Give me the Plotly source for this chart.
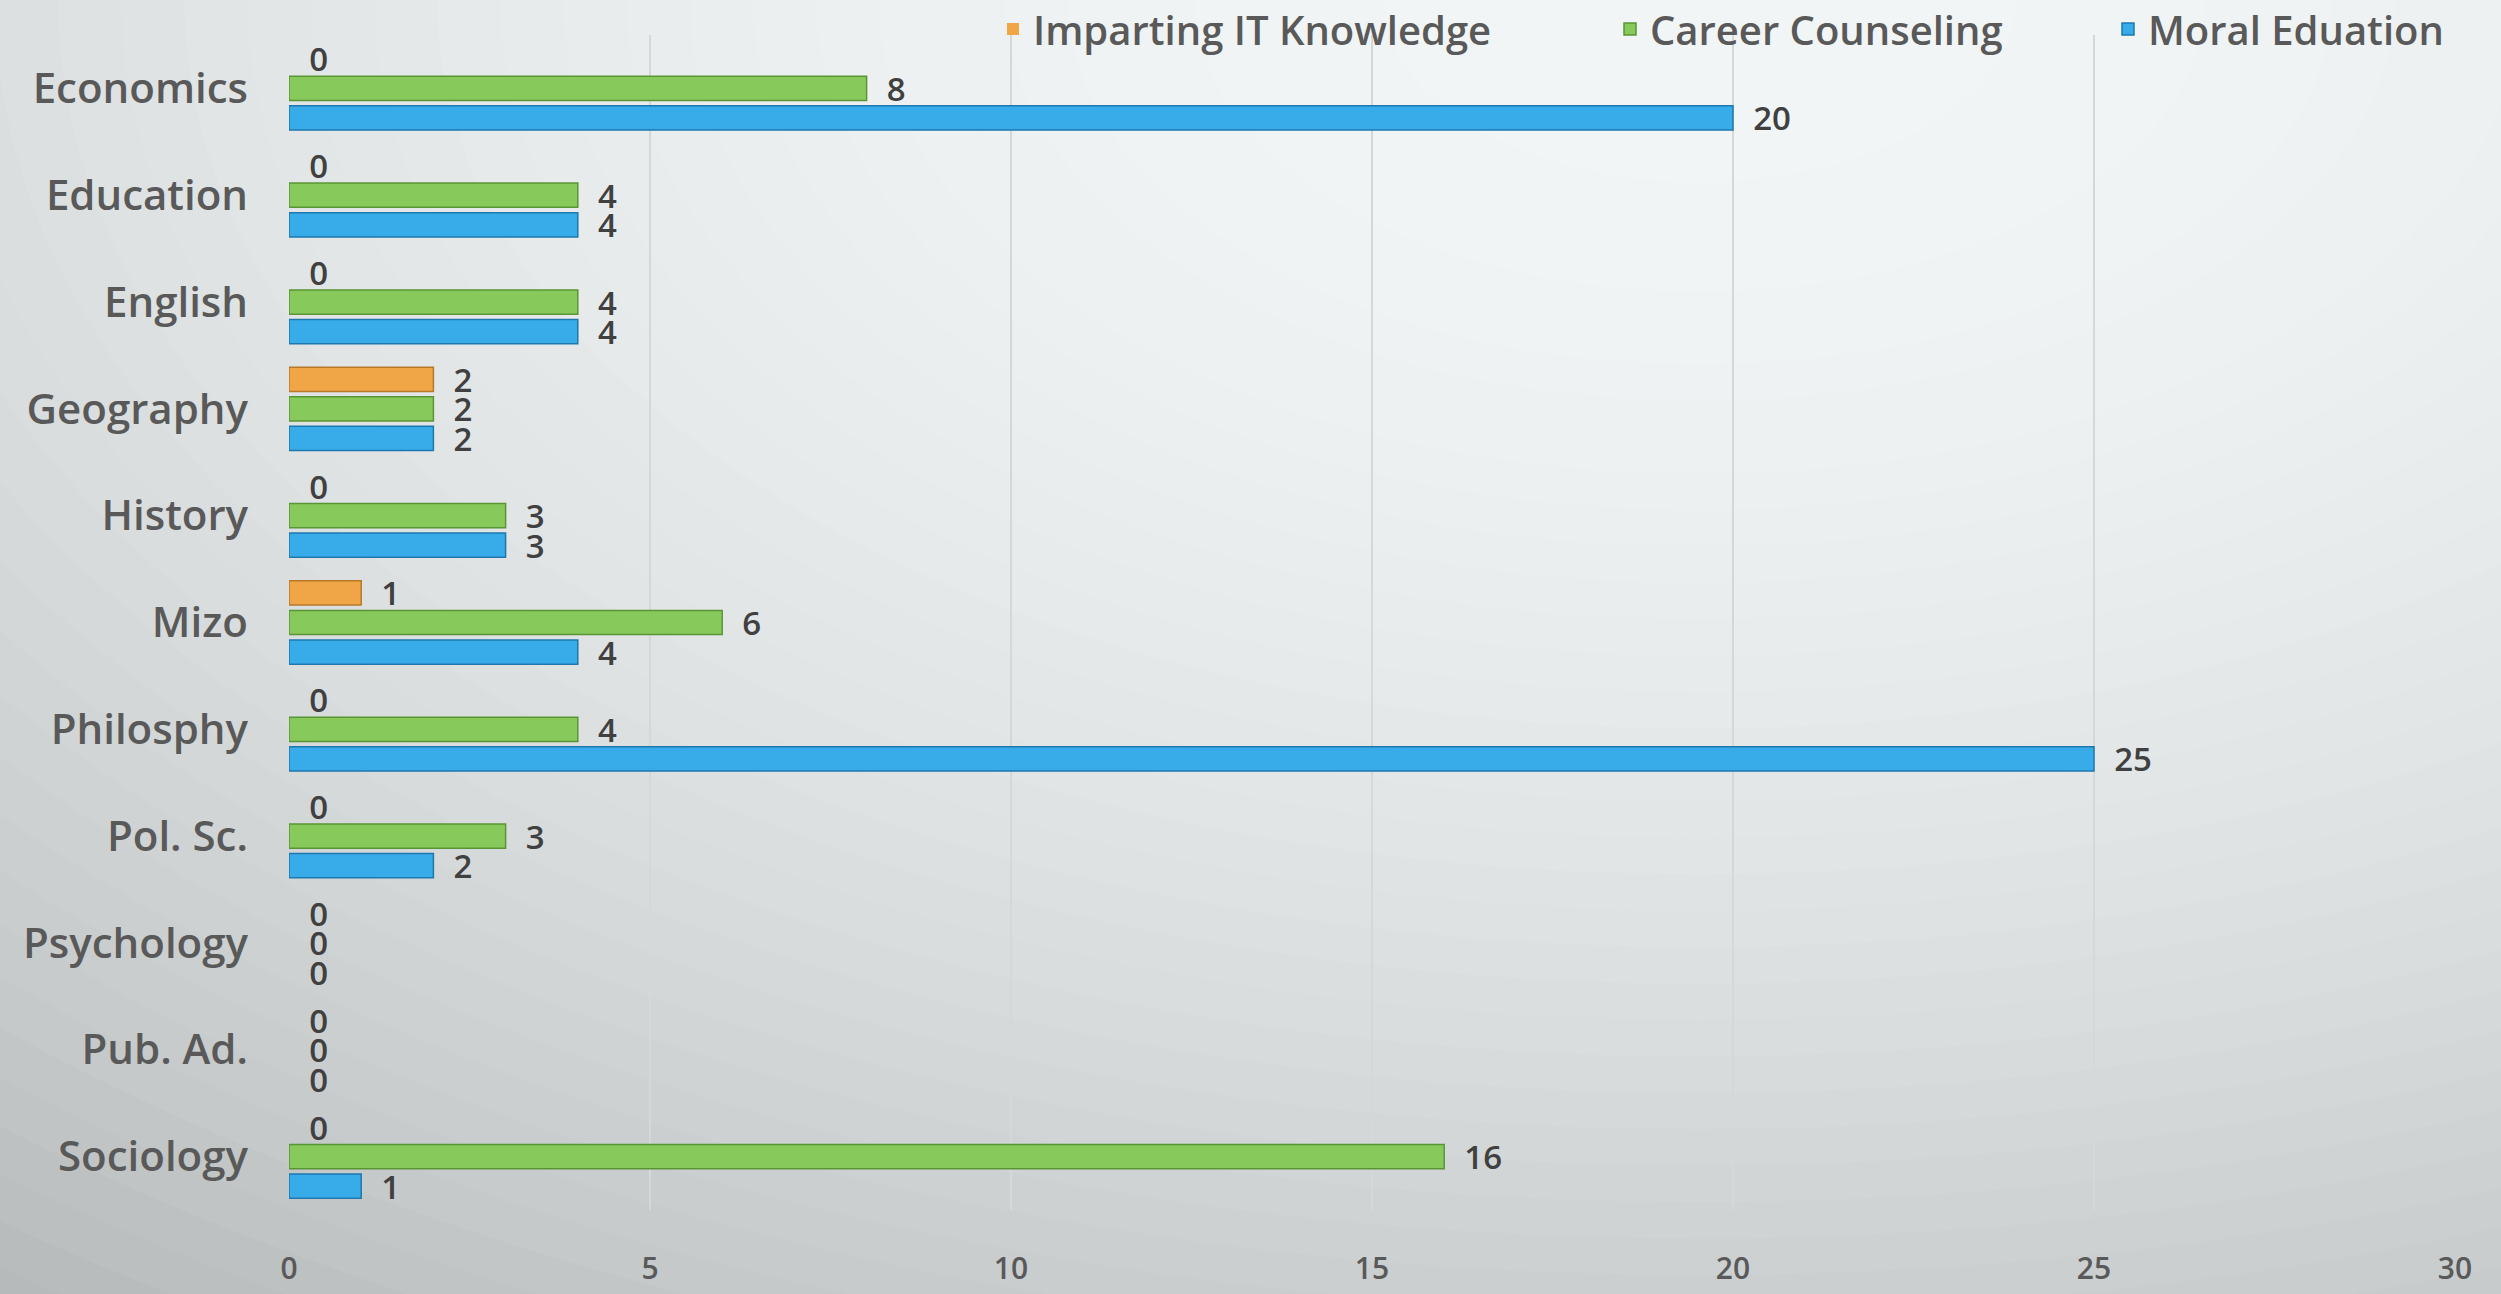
import plotly.graph_objects as go

categories = ["Economics", "Education", "English", "Geography", "History", "Mizo",
              "Philosphy", "Pol. Sc.", "Psychology", "Pub. Ad.", "Sociology"]
it_knowledge = [0, 0, 0, 2, 0, 1, 0, 0, 0, 0, 0]
career_counseling = [8, 4, 4, 2, 3, 6, 4, 3, 0, 0, 16]
moral_education = [20, 4, 4, 2, 3, 4, 25, 2, 0, 0, 1]
x_ticks = [0, 5, 10, 15, 20, 25, 30]

W, H = 2501, 1294
ML, MR, MT, MB = 289, 46, 35, 84
PW, PH = W - ML - MR, H - MT - MB

FONT = "Open Sans"
NB = "\u00a0"
series = [
    ("Imparting IT Knowledge", it_knowledge, "#f0a646", "#b8782a", "legend", 1037),
    ("Career Counseling", career_counseling, "#88c95c", "#5a9535", "legend2", 1654),
    ("Moral Eduation", moral_education, "#37ace8", "#1e78b0", "legend3", 2152),
]

fig = go.Figure()
legends = {}
for name, vals, col, line, lg, textx in series:
    fig.add_trace(go.Bar(
        name=name, y=categories, x=vals, orientation="h",
        marker=dict(color=col, line=dict(color=line, width=[1.5 if v else 0 for v in vals])),
        text=[NB + NB + str(v) for v in vals], textposition="outside",
        textfont=dict(family=FONT, size=33, color="#404040", weight=600),
        constraintext="none", cliponaxis=False, legend=lg,
    ))
    legends[lg] = dict(
        orientation="h", x=(textx - 44 - ML) / PW, xanchor="left",
        y=(MT + PH - 29) / PH, yanchor="middle",
        bgcolor="rgba(0,0,0,0)", itemwidth=30,
        font=dict(family=FONT, size=40, color="#595959", weight=600),
    )

# background radial gradient via concentric ellipses (layout styling)
shapes = []
cx, cy = 1700.0, 0.0
a, b = 2600.0, 1500.0
N = 70
for i in range(N):
    d = 1.7 * (1 - i / N)
    v = 246 - 50 * d * d
    v = max(min(v, 246), 150)
    col = "rgb(%d,%d,%d)" % (int(v - 4), int(v), int(v))
    x0, x1 = cx - a * d, cx + a * d
    y0, y1 = cy - b * d, cy + b * d
    shapes.append(dict(
        type="circle", xref="paper", yref="paper", layer="below",
        x0=(x0 - ML) / PW, x1=(x1 - ML) / PW,
        y0=(MT + PH - y1) / PH, y1=(MT + PH - y0) / PH,
        fillcolor=col, line=dict(width=0),
    ))

fig.update_layout(
    width=W, height=H,
    margin=dict(l=ML, r=MR, t=MT, b=MB, autoexpand=False),
    paper_bgcolor="rgb(180,184,184)",
    plot_bgcolor="rgba(0,0,0,0)",
    barmode="group", bargap=0.17, bargroupgap=0.18,
    shapes=shapes,
    font=dict(family=FONT, color="#595959"),
    showlegend=True,
    **legends,
)
fig.update_xaxes(range=[0, 30], tickvals=x_ticks, showgrid=True, gridcolor="#d6d8d8", gridwidth=1.5,
                 zeroline=False, showline=False,
                 tickfont=dict(family=FONT, size=30, color="#595959", weight=600),
                 ticklabelstandoff=38)
fig.update_yaxes(autorange="reversed", showgrid=False, zeroline=False, showline=False,
                 tickfont=dict(family=FONT, size=42, color="#595959", weight=600),
                 ticklabelstandoff=40)

fig.write_html("out.html", config={"displayModeBar": False},
               post_script="document.body.style.margin='0px';")
